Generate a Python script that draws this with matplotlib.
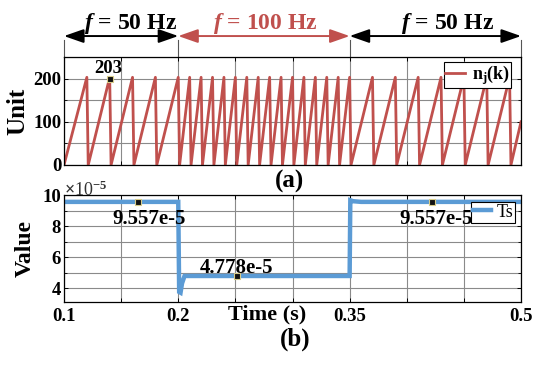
import numpy as np
import matplotlib
matplotlib.use("Agg")
import matplotlib.pyplot as plt
from matplotlib.transforms import blended_transform_factory

plt.rcParams['font.family'] = ['Liberation Serif', 'DejaVu Serif']
plt.rcParams['font.weight'] = 'bold'
plt.rcParams['axes.labelweight'] = 'bold'
plt.rcParams['mathtext.fontset'] = 'custom'
plt.rcParams['mathtext.rm'] = 'Liberation Serif:bold'
plt.rcParams['mathtext.bf'] = 'Liberation Serif:bold'
plt.rcParams['mathtext.it'] = 'Liberation Serif:italic:bold'

# ---------------- data ----------------
# sawtooth counter n_j(k): start, peaks (each followed by reset to 0), end
saw_start_t = 0.10
saw_start_n = 0
saw_peak_t = [0.12, 0.14, 0.16, 0.18, 0.20,
              0.21, 0.22, 0.23, 0.24, 0.25, 0.26, 0.27, 0.28, 0.29, 0.30,
              0.31, 0.32, 0.33, 0.34, 0.35,
              0.37, 0.39, 0.41, 0.43, 0.45, 0.47, 0.49]
saw_peak_n = [203, 203, 203, 203, 203,
              203, 203, 203, 203, 203, 203, 203, 203, 203, 203,
              203, 203, 203, 203, 203,
              203, 203, 203, 203, 203, 203, 203]
saw_end_t = 0.50
saw_end_n = 100

# switching period Ts
ts_t = [0.10, 0.200, 0.2008, 0.2020, 0.2033, 0.2055, 0.350, 0.3506, 0.3530, 0.3600, 0.50]
ts_v = [9.557e-5, 9.557e-5, 3.75e-5, 3.70e-5, 4.30e-5, 4.778e-5, 4.778e-5,
        9.66e-5, 9.60e-5, 9.557e-5, 9.557e-5]

x_ticks = [0.10, 0.15, 0.20, 0.25, 0.30, 0.35, 0.40, 0.45, 0.50]
x_tick_labels = ['0.1', '', '0.2', '', '', '0.35', '', '', '0.5']
top_y_ticks = [0, 100, 200]
top_y_grid = [50, 150, 250]
bot_y_ticks = [4e-5, 6e-5, 8e-5, 10e-5]
bot_y_tick_labels = ['4', '6', '8', '10']
bot_y_grid = [5e-5, 7e-5, 9e-5]

region_bounds = [0.10, 0.20, 0.35, 0.50]
region_labels = ['$f$ = 50 Hz', '$f$ = 100 Hz', '$f$ = 50 Hz']
region_label_x = [0.1578, 0.2760, 0.4356]

tip_top = (0.14, 203, '203')
tips_bot = [(0.1648, 9.557e-5, '9.557e-5', 0.1744, 8.48e-5),
            (0.2514, 4.778e-5, '4.778e-5', 0.2514, 5.30e-5),
            (0.4221, 9.557e-5, '9.557e-5', 0.4256, 8.48e-5)]

RED = '#c0504d'
BLUE = '#5b9bd5'
GRID = '#8a8a8a'

# build sawtooth vertices
fall = 0.0012
sx = [saw_start_t]
sy = [saw_start_n]
for pt, pn in zip(saw_peak_t, saw_peak_n):
    sx += [pt, pt + fall]
    sy += [pn, 0]
sx.append(saw_end_t)
sy.append(saw_end_n)

W, H = 550, 366
fig = plt.figure(figsize=(W / 100, H / 100), dpi=100)
ax1 = fig.add_axes([64 / W, 1 - 165 / H, 457 / W, 108 / H])
ax2 = fig.add_axes([64 / W, 1 - 302 / H, 457 / W, 107 / H])

for ax in (ax1, ax2):
    ax.set_xlim(0.1, 0.5)
    ax.set_xticks(x_ticks)
    ax.tick_params(direction='in', top=True, right=True, length=3, width=0.7,
                   labelsize=13.5, pad=2)
    for sp in ax.spines.values():
        sp.set_linewidth(0.9)
    ax.grid(True, which='both', color=GRID, lw=0.8)
    ax.set_axisbelow(True)

# ---- top ----
ax1.plot(sx, sy, color=RED, lw=2.0, label=r'$\mathbf{n_j(k)}$')
ax1.set_ylim(0, 250)
ax1.set_yticks(top_y_ticks)
ax1.set_yticks(top_y_grid, minor=True)
ax1.tick_params(which='minor', direction='in', length=2, right=True, left=True)
ax1.set_xticklabels([])
ax1.set_ylabel('Unit', fontsize=18, labelpad=3)
ax1.plot([tip_top[0]], [tip_top[1] - 3], marker='s', markersize=5,
         mfc='#111111', mec='#d8cc8a', mew=0.8, ls='none', zorder=5)
ax1.text(tip_top[0] - 0.0015, 224, tip_top[2], ha='center', va='center', fontsize=13.5)
leg1 = ax1.legend(loc='upper right', bbox_to_anchor=(0.978, 0.955), fontsize=13,
                  frameon=True, fancybox=False, edgecolor='black', framealpha=1,
                  handlelength=1.1, handletextpad=0.4, borderpad=0.05,
                  borderaxespad=0)
leg1.get_frame().set_linewidth(0.8)

# arrows and region markers above the top axes
trans = blended_transform_factory(ax1.transData, ax1.transAxes)
for xb in region_bounds:
    ax1.plot([xb, xb], [1.0, 1.157], transform=trans, color='#555555', lw=0.8,
             clip_on=False)
arrow_y = 1.194
colors = ['black', RED, 'black']
for i in range(3):
    ax1.annotate('', xy=(region_bounds[i + 1], arrow_y), xytext=(region_bounds[i], arrow_y),
                 xycoords=trans, textcoords=trans,
                 arrowprops=dict(arrowstyle='<|-|>,head_length=1.0,head_width=0.35',
                                 color=colors[i], lw=1.4, mutation_scale=12,
                                 shrinkA=0, shrinkB=0))
    ax1.text(region_label_x[i], 1.31, region_labels[i], transform=trans,
             ha='center', va='center', fontsize=17, color=colors[i])

fig.text(290 / W, 1 - 181 / H, '(a)', ha='center', va='center', fontsize=18)

# ---- bottom ----
ax2.plot(ts_t, ts_v, color=BLUE, lw=3.2, label='Ts', solid_joinstyle='miter')
ax2.set_ylim(3.1e-5, 10e-5)
ax2.set_yticks(bot_y_ticks)
ax2.set_yticklabels(bot_y_tick_labels)
ax2.set_yticks(bot_y_grid, minor=True)
ax2.tick_params(which='minor', direction='in', length=2, right=True, left=True)
ax2.set_xticklabels(x_tick_labels)
ax2.tick_params(axis='x', pad=4)
ax2.set_ylabel('Value', fontsize=17, labelpad=5)
for mx, my, lab, lx, ly in tips_bot:
    ax2.plot([mx], [my], marker='s', markersize=5, mfc='#111111', mec='#d8cc8a',
             mew=0.8, ls='none', zorder=5)
    ax2.text(lx, ly, lab, ha='center', va='center', fontsize=15)
leg2 = ax2.legend(loc='upper right', bbox_to_anchor=(0.987, 0.935), fontsize=13,
                  frameon=True, fancybox=False, edgecolor='black', framealpha=1,
                  handlelength=1.0, handletextpad=0.3, borderpad=0.1,
                  borderaxespad=0)
leg2.get_frame().set_linewidth(0.8)
leg2.get_texts()[0].set_fontweight('normal')

fig.text(64 / W, 1 - 190 / H, r'$\times$10$^{-5}$', ha='left', va='center',
         fontsize=13, fontweight='normal', color='#333333')
fig.text(267 / W, 1 - 314 / H, 'Time (s)', ha='center', va='center', fontsize=16)
fig.text(295 / W, 1 - 339 / H, '(b)', ha='center', va='center', fontsize=18)

fig.savefig('out.png', dpi=100)
